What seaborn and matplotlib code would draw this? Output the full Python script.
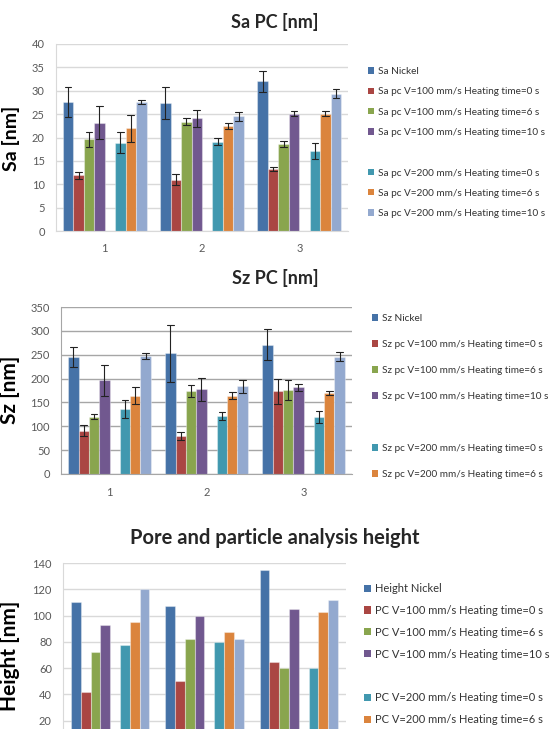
import pandas as pd
import matplotlib
matplotlib.use("Agg")
import matplotlib.pyplot as plt
from matplotlib.patches import Patch
import seaborn as sns

# samples on the x axis
samples = ["1", "2", "3"]

# series keys (with an empty slot between the two speeds, as in the Excel chart)
series = ["Nickel", "100/0", "100/6", "100/10", "gap", "200/0", "200/6", "200/10"]
colors = ["#4572A7", "#AA4643", "#89A54E", "#71588F", "#FFFFFF", "#4198AF", "#DB843D", "#93A9CF"]

# Sa [nm] means and error bars, one row per series (gap excluded)
sa_values = [[27.6, 27.4, 32.0], [11.9, 11.0, 13.3], [19.6, 23.4, 18.6], [23.2, 24.1, 25.1],
             [18.9, 19.1, 17.1], [22.0, 22.4, 25.1], [27.6, 24.5, 29.4]]
sa_errors = [[3.2, 3.4, 2.3], [0.7, 1.2, 0.4], [1.6, 0.7, 0.6], [3.6, 1.8, 0.5],
             [2.3, 0.7, 1.8], [2.9, 0.6, 0.6], [0.5, 1.0, 1.0]]

# Sz [nm]
sz_values = [[246, 253, 271], [91, 80, 173], [120, 174, 176], [196, 178, 182],
             [137, 121, 119], [164, 164, 170], [247, 184, 246]]
sz_errors = [[21, 60, 32], [12, 8, 26], [5, 12, 21], [33, 24, 7],
             [19, 8, 12], [18, 7, 5], [7, 14, 10]]

# Pore and particle analysis height [nm]
height_values = [[110, 107, 135], [42, 50, 65], [72.5, 82.5, 60], [92.5, 100, 105],
                 [77.5, 80, 60], [95, 87.5, 102.5], [120, 82.5, 112]]

sa_labels = ["Sa Nickel", "Sa pc V=100 mm/s Heating time=0 s", "Sa pc V=100 mm/s Heating time=6 s",
             "Sa pc V=100 mm/s Heating time=10 s", "", "Sa pc V=200 mm/s Heating time=0 s",
             "Sa pc V=200 mm/s Heating time=6 s", "Sa pc V=200 mm/s Heating time=10 s"]
sz_labels = ["Sz Nickel", "Sz pc V=100 mm/s Heating time=0 s", "Sz pc V=100 mm/s Heating time=6 s",
             "Sz pc V=100 mm/s Heating time=10 s", "", "Sz pc V=200 mm/s Heating time=0 s",
             "Sz pc V=200 mm/s Heating time=6 s"]
height_labels = ["Height Nickel", "PC V=100 mm/s Heating time=0 s", "PC V=100 mm/s Heating time=6 s",
                 "PC V=100 mm/s Heating time=10 s", "", "PC V=200 mm/s Heating time=0 s",
                 "PC V=200 mm/s Heating time=6 s"]


def to_long(values, errors=None):
    # two rows per bar (mean - err, mean + err) so seaborn draws the error bar itself
    keys = [s for s in series if s != "gap"]
    rows = []
    for i, key in enumerate(keys):
        for j, smp in enumerate(samples):
            e = errors[i][j] if errors is not None else 0
            rows.append((smp, key, values[i][j] - e))
            rows.append((smp, key, values[i][j] + e))
    return pd.DataFrame(rows, columns=["sample", "series", "value"])


sns.set_style("white")
plt.rcParams["font.family"] = ["Lato", "DejaVu Sans"]

fig = plt.figure(figsize=(5.5, 7.29), dpi=100)
W, H = 550, 729


def add_panel(box, df, ymax, step, width, title, title_y, title_size, ylabel, ylabel_size,
              ylabel_y, grid_color, with_err, labels, leg_xy, leg_size, leg_spacing,
              show_x=True, first_tick=0):
    l, t, r, b = box
    ax = fig.add_axes([l / W, 1 - b / H, (r - l) / W, (b - t) / H])
    kw = dict(errorbar=(lambda v: (v.min(), v.max())) if with_err else None)
    sns.barplot(data=df, x="sample", y="value", hue="series", order=samples,
                hue_order=series, palette=colors, width=width, saturation=1,
                linewidth=0.8, edgecolor=(1, 1, 1, 0.35), capsize=0.55,
                err_kws={"color": "#222222", "linewidth": 0.8}, legend=False, ax=ax, **kw)
    ax.set_ylim(0, ymax)
    ax.set_yticks(range(first_tick, ymax + 1, step))
    ax.set_xlim(-0.5, 2.5)
    ax.yaxis.grid(True, color=grid_color, linewidth=1)
    ax.set_axisbelow(True)
    for side in ["top", "right"]:
        ax.spines[side].set_visible(False)
    for side in ["left", "bottom"]:
        ax.spines[side].set_color(grid_color)
    ax.tick_params(axis="y", colors="#595959", labelsize=8, length=0, pad=8)
    ax.tick_params(axis="x", colors="#595959", labelsize=8, length=0, pad=9,
                   labelbottom=show_x)
    ax.set_xlabel("")
    ax.set_ylabel(ylabel, fontsize=ylabel_size, fontweight="bold", color="black")
    ax.yaxis.set_label_coords(-(l - 20) / (r - l), (b - ylabel_y) / (b - t))
    fig.text(275 / W, 1 - title_y / H, title, ha="center", va="center",
             fontsize=title_size, fontweight="bold")
    handles = []
    for c, lab in zip(colors, labels):
        handles.append(Patch(facecolor=c if lab else "none", edgecolor="none"))
    fig.legend(handles, labels, loc="upper left",
               bbox_to_anchor=(leg_xy[0] / W, 1 - leg_xy[1] / H), frameon=False,
               fontsize=leg_size, handlelength=0.6, handleheight=0.6, handletextpad=0.35,
               labelspacing=leg_spacing, borderpad=0, borderaxespad=0,
               labelcolor="#333333")
    return ax


add_panel((56, 44, 348, 231), to_long(sa_values, sa_errors), 40, 5, 0.86,
          "Sa PC [nm]", 22, 13, "Sa [nm]", 14, 138, "#d9d9d9", True,
          sa_labels, (368, 67), 7.2, 1.13)
add_panel((61, 307, 352, 474), to_long(sz_values, sz_errors), 350, 50, 0.85,
          "Sz PC [nm]", 278, 13, "Sz [nm]", 15, 390, "#a6a6a6", True,
          sz_labels, (372, 314), 7.2, 1.7)
# the bottom chart is cut off by the page, so its axis starts below the figure edge
add_panel((63, 563, 346, 747), to_long(height_values), 140, 20, 0.83,
          "Pore and particle analysis height", 538, 14.5, "Height [nm]", 15, 656, "#d9d9d9",
          False, height_labels, (364, 583), 8.0, 0.98, show_x=False, first_tick=20)

fig.savefig("out.png", dpi=100)
